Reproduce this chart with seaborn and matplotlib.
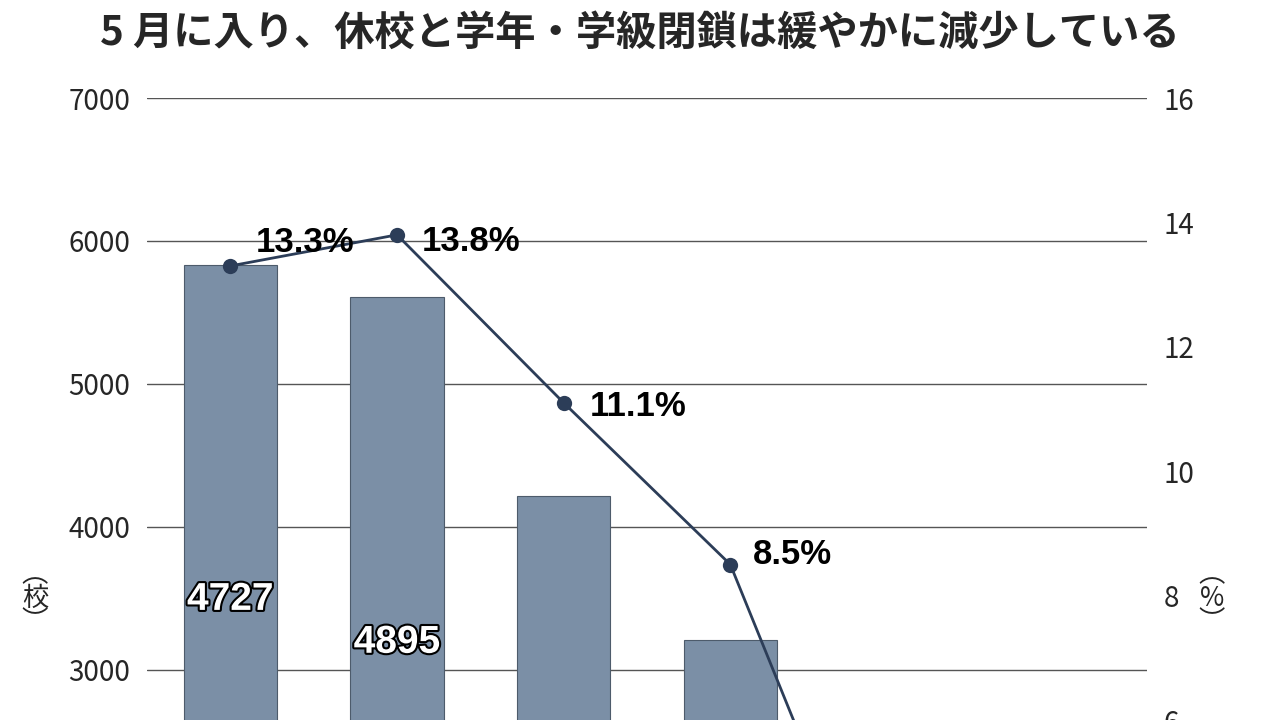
import numpy as np
import pandas as pd
import seaborn as sns
import matplotlib.pyplot as plt
import matplotlib.patheffects as pe

# data (the bottom of the chart is cut off in the reference, last points are estimates)
weeks = ['4/13', '4/20', '4/27', '5/11', '5/18', '5/25']
closed_schools = [5830, 5610, 4215, 3210, 1500, 1200]
closed_rate = [13.3, 13.8, 11.1, 8.5, 1.9, 1.2]
bar_labels = ['4727', '4895']
bar_label_y = [3490, 3190]
rate_labels = ['13.3%', '13.8%', '11.1%', '8.5%']
rate_label_offsets = [(18, 17), (18, -5), (19, -3), (16, 7)]

sns.set_theme(style='white')
plt.rcParams['font.family'] = ['Noto Sans CJK JP', 'DejaVu Sans']

df = pd.DataFrame({'week': weeks, 'schools': closed_schools, 'rate': closed_rate})

fig = plt.figure(figsize=(12.8, 7.2), dpi=100)
ax = fig.add_axes([147 / 1280, 0, 1000 / 1280, 1 - 98 / 720])

sns.barplot(data=df, x='week', y='schools', color='#7b8fa6', saturation=1,
            width=0.56, edgecolor='#4d5b6b', linewidth=0.8, ax=ax)
ax.set_ylim(2650, 7000)
ax.set_yticks([3000, 4000, 5000, 6000, 7000])
ax.set_axisbelow(True)
ax.yaxis.grid(True, color='#555555', linewidth=1)
ax.set_xlabel('')
ax.set_ylabel('')
ax.set_xticklabels([])
ax.tick_params(axis='y', labelsize=20, pad=12, length=0)
ax.tick_params(axis='x', length=0)
for s in ax.spines.values():
    s.set_visible(False)

# labels inside bars
for i, txt in enumerate(bar_labels):
    ax.text(i, bar_label_y[i], txt, ha='center', va='center', fontsize=28,
            fontweight='bold', family='Liberation Sans', color='white',
            path_effects=[pe.withStroke(linewidth=3, foreground='black')])

ax2 = ax.twinx()
sns.lineplot(x=np.arange(len(weeks)), y=closed_rate, color='#2c3d58', linewidth=2,
             marker='o', markersize=11, markeredgewidth=0, ax=ax2)
ax2.set_ylim(6.0, 16)
ax2.set_yticks([6, 8, 10, 12, 14, 16])
ax2.tick_params(axis='y', labelsize=20, pad=12, length=0)
for s in ax2.spines.values():
    s.set_visible(False)
ax.set_xlim(-0.5, len(weeks) - 0.5)

for i, txt in enumerate(rate_labels):
    ax2.annotate(txt, (i, closed_rate[i]), xytext=rate_label_offsets[i],
                 textcoords='offset points', ha='left', va='center',
                 fontsize=25, fontweight='bold', family='Liberation Sans', color='black')

fig.text(0.5, 1 - 33 / 720, '5 月に入り、休校と学年・学級閉鎖は緩やかに減少している',
         ha='center', va='center', fontsize=29, fontweight='bold')
fig.text(35 / 1280, 1 - 598 / 720, '︵\n校\n︶', ha='center', va='center',
         fontsize=19, linespacing=0.85)
fig.text(1212 / 1280, 1 - 598 / 720, '︵\n%\n︶', ha='center', va='center',
         fontsize=19, linespacing=0.85)

fig.savefig('out.png', dpi=100)
